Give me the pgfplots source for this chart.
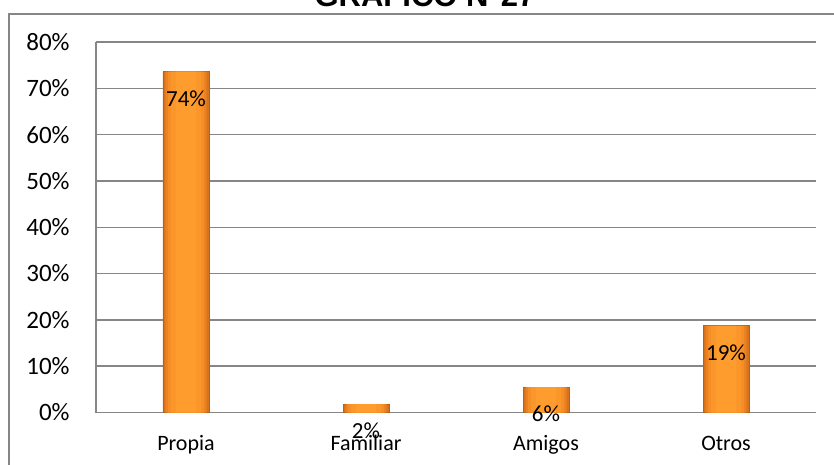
\documentclass[border=0pt]{standalone}
\usepackage{fontspec}
\setmainfont{Carlito}
\newfontfamily\titlefont{Liberation Sans}
\usepackage{pgfplots}
\usepackage{pgfplotstable}
\pgfplotsset{compat=1.18}
\definecolor{barA}{RGB}{216,114,28}
\definecolor{barB}{RGB}{234,130,34}
\definecolor{barC}{RGB}{245,142,38}
\definecolor{barD}{RGB}{251,150,42}
\definecolor{barE}{RGB}{254,156,46}
\definecolor{gridgray}{RGB}{134,134,134}

\pgfplotstableread{
x y lab
0 73.6 74
1 1.8 2
2 5.5 6
3 18.7 19
}\datatable

\begin{document}
\begin{tikzpicture}
\begin{axis}[
    at={(48pt,26.25pt)}, anchor=south west,
    scale only axis,
    width=360pt, height=185.25pt,
    xmin=-0.5, xmax=3.5,
    ymin=0, ymax=80,
    ytick={0,10,...,80},
    yticklabel={\pgfmathprintnumber{\tick}\%},
    /pgf/number format/assume math mode=true,
    xtick={0,1,2,3},
    xticklabels={Propia,Familiar,Amigos,Otros},
    axis x line*=bottom, axis y line*=left,
    axis line style={gridgray, line width=0.75pt},
    ymajorgrids,
    major grid style={gridgray, line width=0.75pt},
    major tick length=0pt,
    yticklabel style={font=\fontsize{12.5}{14}\selectfont, anchor=east, inner sep=0pt, xshift=-13pt},
    xticklabel style={font=\fontsize{11}{13}\selectfont, anchor=base, inner sep=0pt, yshift=-19pt},
    every axis plot/.append style={ybar, bar shift=0pt},
]
% bars built up in layers, darker at the sides and lighter in the middle
\addplot[bar width=23pt, fill=barA, draw=barA!85!black, line width=0.4pt] table[x=x,y=y] {\datatable};
\addplot[bar width=20.5pt, fill=barB, draw=none] table[x=x,y=y] {\datatable};
\addplot[bar width=18pt, fill=barC, draw=none] table[x=x,y=y] {\datatable};
\addplot[bar width=15pt, fill=barD, draw=none] table[x=x,y=y] {\datatable};
\addplot[bar width=10pt, fill=barE, draw=none,
    point meta=explicit symbolic,
    nodes near coords={\pgfplotspointmeta\%},
    nodes near coords style={font=\fontsize{11.5}{13}\selectfont, anchor=center, yshift=-13.5pt, text=black},
] table[x=x,y=y,meta=lab] {\datatable};
\end{axis}
\node[font=\titlefont\bfseries\fontsize{15.5}{18}\selectfont, anchor=base] at (212.5pt,229pt) {GRAFICO  N°27};
\draw[gridgray, line width=0.75pt] (4.5pt,0pt) -- (4.5pt,225.5pt) -- (420pt,225.5pt);
\pgfresetboundingbox
\path[use as bounding box] (0pt,0pt) rectangle (417pt,232.5pt);
\end{tikzpicture}
\end{document}
